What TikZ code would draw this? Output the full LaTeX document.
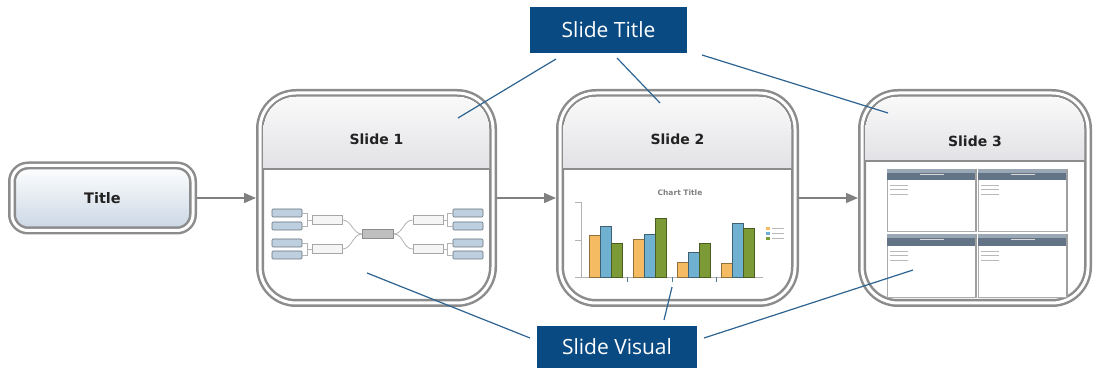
\documentclass[tikz,border=0pt]{standalone}
\usepackage{fontspec}
\setmainfont{DejaVu Sans}
\newfontfamily\calloutfont{Open Sans}
\usetikzlibrary{positioning,arrows.meta}

\definecolor{framegray}{HTML}{8C8C8C}
\definecolor{headtop}{HTML}{FCFCFC}
\definecolor{headbot}{HTML}{E2E2E6}
\definecolor{titlebot}{HTML}{C9D6E4}
\definecolor{labeltext}{HTML}{222222}
\definecolor{arrowgray}{HTML}{808080}
\definecolor{calloutblue}{HTML}{0A4A83}
\definecolor{leaderblue}{HTML}{2C6391}
\definecolor{barorange}{HTML}{F4BB62}
\definecolor{barblue}{HTML}{70B1D2}
\definecolor{bargreen}{HTML}{7C9B36}
\definecolor{leafblue}{HTML}{BED0E0}
\definecolor{paneltop}{HTML}{9AA8B6}
\definecolor{panelbot}{HTML}{647487}

\tikzset{
  frame/.style={draw=framegray, line width=2.5pt, double=white, double distance=3pt, outer sep=4pt},
  titlebox/.style={frame, rectangle, rounded corners=16pt, minimum width=181pt, minimum height=65pt,
    top color=white, bottom color=titlebot, font=\bfseries\fontsize{14.5}{16}\selectfont, text=labeltext},
  slidebox/.style={frame, rectangle, rounded corners=36pt, minimum width=#1, minimum height=210pt, fill=white},
  slidelabel/.style={font=\bfseries\fontsize{14}{16}\selectfont, text=labeltext},
  callout/.style={rectangle, fill=calloutblue, text=white, inner sep=0pt, outer sep=0pt,
    font=\calloutfont\fontsize{21}{24}\selectfont},
  leader/.style={draw=leaderblue, line width=1.2pt},
  flow/.style={draw=arrowgray, line width=1.5pt, -{Triangle[length=12pt,width=10pt]}},
  leaf/.style={rectangle, rounded corners=1pt, draw=black!45!leafblue, fill=leafblue, line width=0.6pt, minimum width=30pt, minimum height=8pt, inner sep=0pt},
  mid/.style={rectangle, draw=gray!70, fill=gray!8, line width=0.6pt, minimum width=30pt, minimum height=9pt, inner sep=0pt},
  hub/.style={rectangle, draw=gray!90, fill=gray!50, line width=0.6pt, minimum width=31pt, minimum height=9pt, inner sep=0pt},
  mapline/.style={draw=gray!60, line width=0.8pt},
  bar/.style={line width=0.6pt},
  axis/.style={draw=gray!60, line width=0.6pt},
  panel/.style={rectangle, draw=gray!65, fill=white, line width=0.6pt, minimum width=89pt, inner sep=0pt, outer sep=0pt},
  listline/.style={draw=gray!55, line width=0.7pt}
}

\begin{document}
\begin{tikzpicture}[x=1pt, y=1pt]
    \useasboundingbox (0,0) rectangle (1094,372);

    % Title and slides
    \node [titlebox] (title) at (102.5,174) {Title};
    \node [slidebox=233pt, right=59pt of title] (s1) {};
    \node [slidebox=235pt, right=59pt of s1] (s2) {};
    \node [slidebox=226pt, right=59pt of s2] (s3) {};

    % Slide headers
    \foreach \s/\h in {s1/80, s2/80, s3/72} {
      \begin{scope}
        \clip [rounded corners=32.5pt] ([shift={(7.5pt,7.5pt)}]\s.south west) rectangle ([shift={(-7.5pt,-7.5pt)}]\s.north east);
        \fill [top color=headtop, bottom color=headbot] (\s.north west) rectangle ([yshift=-\h]\s.north east);
        \draw [framegray, line width=1.5pt] ([yshift=-\h]\s.north west) -- ([yshift=-\h]\s.north east);
      \end{scope}
    }
    \node [slidelabel] (s1label) at ([yshift=-50]s1.north) {Slide 1};
    \node [slidelabel] (s2label) at ([yshift=-50]s2.north) {Slide 2};
    \node [slidelabel] (s3label) at ([yshift=-52]s3.north) {Slide 3};

    % Arrows between the slides
    \draw [flow] (title) -- (s1);
    \draw [flow] (s1) -- (s2);
    \draw [flow] (s2) -- (s3);

    % Slide 1: map
    \node [hub] (hub) at (378,138) {};
    \node [mid] (lm1) at (327,152) {};
    \node [mid] (lm2) at (327,123) {};
    \node [mid] (rm1) at (428,152) {};
    \node [mid] (rm2) at (428,123) {};
    \foreach \i/\y in {1/159, 2/146, 3/129, 4/117} {
      \node [leaf] (ll\i) at (287,\y) {};
      \node [leaf] (rl\i) at (468,\y) {};
    }
    \draw [mapline] (lm1.east) to[out=0, in=180] (hub.west);
    \draw [mapline] (lm2.east) to[out=0, in=180] (hub.west);
    \draw [mapline] (rm1.west) to[out=180, in=0] (hub.east);
    \draw [mapline] (rm2.west) to[out=180, in=0] (hub.east);
    \foreach \i/\m in {1/1, 2/1, 3/2, 4/2} {
      \draw [mapline] (ll\i.east) -- ++(5,0) |- (lm\m.west);
      \draw [mapline] (rl\i.west) -- ++(-5,0) |- (rm\m.east);
    }

    % Slide 2: chart
    \node [font=\bfseries\fontsize{7.5}{9}\selectfont, text=gray] (chart) at (680,179) {Chart Title};
    \draw [axis] (581,170) -- (581,95) -- (763,95);
    \foreach \y in {170, 132, 95} \draw [axis] (575,\y) -- (581,\y);
    \foreach \x/\a/\b/\c in {589/137/146/129, 633/133/138/154, 677/110/120/129, 721/109/149/144} {
      \draw [bar, fill=barorange, draw=barorange!60!black] (\x,95) rectangle ({\x+11},\a);
      \draw [bar, fill=barblue, draw=barblue!55!black] ({\x+11},95) rectangle ({\x+22},\b);
      \draw [bar, fill=bargreen, draw=bargreen!60!black] ({\x+22},95) rectangle ({\x+33},\c);
    }
    \foreach \x in {627, 672, 716} \draw [draw=barblue!70!black, line width=0.6pt] (\x,95) -- (\x,90);
    \foreach \y/\col in {142/barorange, 137/barblue, 132/bargreen} {
      \fill [\col] (766,\y) rectangle ++(4,3);
      \draw [listline, line width=0.5pt] (772,{\y+1.5}) -- ++(12,0);
    }

    % Slide 3: four panels
    \foreach \n/\x/\y/\h/\ht in {pa/931.5/172/11/62, pb/1022.5/172/11/62, pc/931.5/106.5/12/63, pd/1022.5/106.5/12/63} {
      \node [panel, minimum height=\ht] (\n) at (\x,\y) {};
      \fill [panelbot] (\n.north west) rectangle ([yshift=-\h]\n.north east);
      \fill [paneltop] (\n.north west) rectangle ([yshift=-4]\n.north east);
      \draw [white!70!gray, line width=1pt] ([shift={(-12,-6)}]\n.north) -- ++(24,0);
      \draw [gray!75, line width=2pt] (\n.north east) -- (\n.south east);
      \foreach \k in {0,1,2}
        \draw [listline] ([shift={(3,-\h-5-4.5*\k)}]\n.north west) -- ++(18,0);
    }

    % Callouts
    \node [callout, minimum width=157pt, minimum height=46pt] (stitle) at (608.5,342) {Slide Title};
    \node [callout, minimum width=160pt, minimum height=42pt] (svis) at (617,25) {Slide Visual};

    \coordinate (tp1) at (458,254);
    \coordinate (tp2) at (660,269);
    \coordinate (tp3) at (888,259);
    \coordinate (vp1) at (367,99);
    \coordinate (vp2) at (672,85);
    \coordinate (vp3) at (913,102);

    \draw [leader] ([shift={(26,-6)}]stitle.south west) -- (tp1);
    \draw [leader] ([shift={(87,-5)}]stitle.south west) -- (tp2);
    \draw [leader] ([shift={(15,-2)}]stitle.south east) -- (tp3);
    \draw [leader] ([shift={(-7,-12)}]svis.north west) -- (vp1);
    \draw [leader] ([shift={(-33,6)}]svis.north east) -- (vp2);
    \draw [leader] ([shift={(7,-12)}]svis.north east) -- (vp3);

\end{tikzpicture}
\end{document}
